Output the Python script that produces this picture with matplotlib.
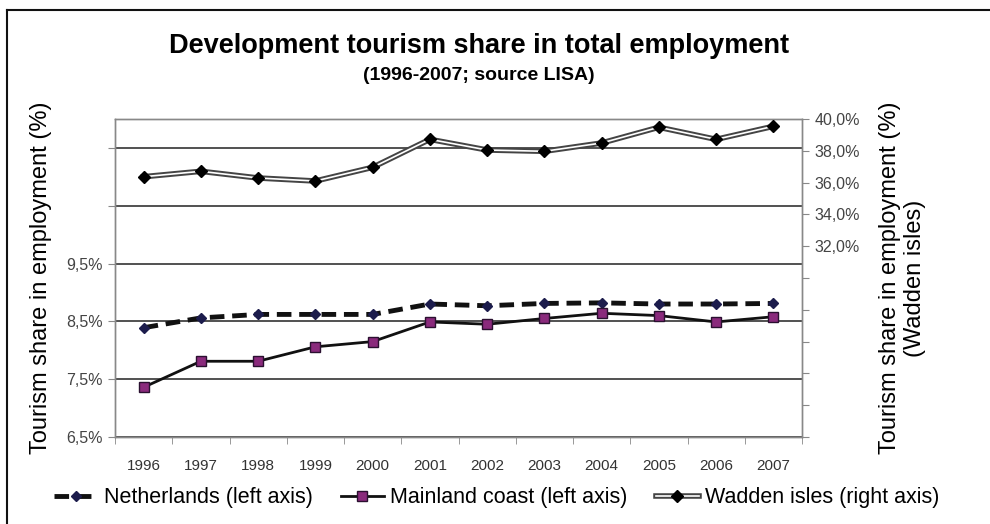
import numpy as np
import matplotlib
matplotlib.use('Agg')
import matplotlib.pyplot as plt
import matplotlib.patheffects as pe
from matplotlib.lines import Line2D
from matplotlib.legend_handler import HandlerTuple

plt.rcParams['font.family'] = ['Liberation Sans', 'DejaVu Sans']

years = ['1996', '1997', '1998', '1999', '2000', '2001',
         '2002', '2003', '2004', '2005', '2006', '2007']
netherlands = [8.39, 8.56, 8.62, 8.62, 8.62, 8.80, 8.77, 8.81, 8.82, 8.80, 8.80, 8.81]
mainland = [7.36, 7.81, 7.81, 8.06, 8.15, 8.49, 8.45, 8.55, 8.64, 8.60, 8.49, 8.58]
wadden = [36.37, 36.71, 36.29, 36.10, 36.96, 38.72, 38.05, 37.97, 38.49, 39.48, 38.72, 39.54]

W, H = 990, 524
fig = plt.figure(figsize=(W / 100, H / 100), dpi=100)
fig.subplots_adjust(left=115 / W, right=802 / W, top=1 - 119 / H, bottom=1 - 437 / H)
ax = fig.add_subplot(111)
ax2 = ax.twinx()

x = np.arange(len(years))

# left axis series
nl_line, = ax.plot(x, netherlands, color='#111111', lw=3.5, ls=(0, (3, 1.6)),
                   marker='D', ms=5, mfc='#1c1c4c', mec='#1c1c4c', zorder=5)
ml_line, = ax.plot(x, mainland, color='#111111', lw=2, marker='s', ms=6.5,
                   mfc='#8a2a7c', mec='#2a1030', mew=1, zorder=5)

# right axis series (double line + solid diamonds)
wd_line, = ax2.plot(x, wadden, color='white', lw=1.2, zorder=4,
                    path_effects=[pe.Stroke(linewidth=4.0, foreground='#444444'), pe.Normal()])
wd_mark, = ax2.plot(x, wadden, ls='none', marker='D', ms=6.5, mfc='black', mec='black', zorder=5)

ax.set_xlim(-0.5, len(years) - 0.5)
ax.set_ylim(6.5, 12.0)
left_ticks = np.arange(6.5, 12.0, 1.0)
ax.set_yticks(left_ticks)
ax.set_yticklabels([('%.1f%%' % v).replace('.', ',') if v <= 9.6 else '' for v in left_ticks])
ax.grid(axis='y', color='#222222', lw=1.1)
ax.set_axisbelow(True)

ax2.set_ylim(20, 40)
right_ticks = np.arange(20, 41, 2)
ax2.set_yticks(right_ticks)
ax2.set_yticklabels([('%.1f%%' % v).replace('.', ',') if v >= 32 else '' for v in right_ticks])

ax.set_xticks(x)
ax.set_xticklabels(years)
ax.set_xticks(np.arange(-0.5, len(years)), minor=True)
ax.tick_params(axis='x', which='major', length=0, pad=16, labelsize=11, labelcolor='#333333')
ax.tick_params(axis='x', which='minor', length=5, color='#888888')
ax.tick_params(axis='y', length=5, color='#888888', labelsize=11.5, labelcolor='#444444', pad=4)
ax2.tick_params(axis='y', length=5, color='#888888', labelsize=11.5, labelcolor='#444444', pad=4)

for a in (ax, ax2):
    for s in a.spines.values():
        s.set_color('#888888')
        s.set_linewidth(1)

ax.set_ylabel('Tourism share in employment (%)', fontsize=17, labelpad=10)
ax2.set_ylabel('Tourism share in employment (%)\n(Wadden isles)', fontsize=17,
               labelpad=14, linespacing=1.15)

fig.text(479 / W, 1 - 46 / H, 'Development tourism share in total employment',
         ha='center', va='center', fontsize=19.5, fontweight='bold')
fig.text(479 / W, 1 - 75 / H, '(1996-2007; source LISA)',
         ha='center', va='center', fontsize=14, fontweight='bold')

handles = [nl_line, ml_line, (wd_line, wd_mark)]
labels = ['Netherlands (left axis)', 'Mainland coast (left axis)', 'Wadden isles (right axis)']
fig.legend(handles, labels, loc='center',
           bbox_to_anchor=(497 / W, 1 - 498 / H), ncol=3, frameon=False,
           fontsize=15.5, handlelength=2.0, handletextpad=0.3, columnspacing=1.3,
           handler_map={tuple: HandlerTuple(ndivide=1)})

# partial outer frame (left and top)
fig.add_artist(Line2D([7 / W, 7 / W], [0, 1 - 10 / H], color='#111111', lw=1.5))
fig.add_artist(Line2D([7 / W, 1], [1 - 10 / H, 1 - 10 / H], color='#111111', lw=1.5))

fig.savefig('out.png', dpi=100)
